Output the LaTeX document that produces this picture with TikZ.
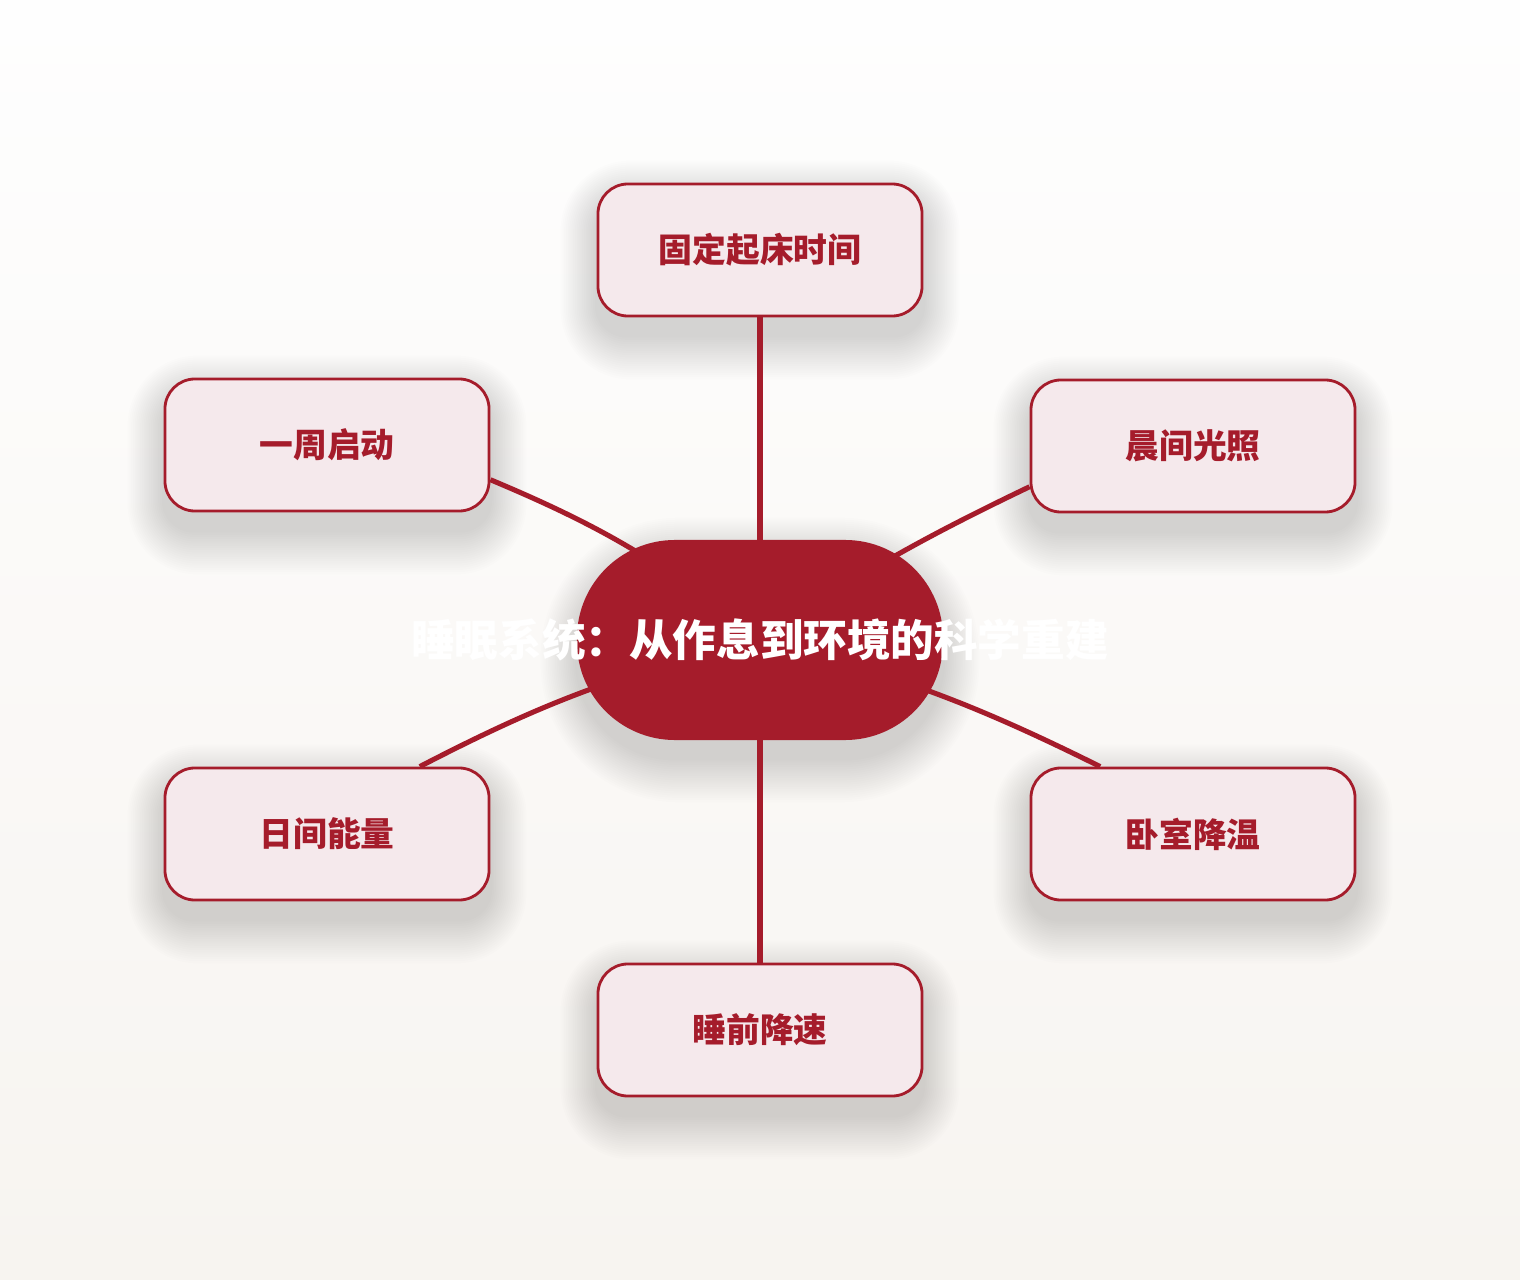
\documentclass[tikz,border=0pt]{standalone}
\usepackage{fontspec}
\usepackage{tikz}
\usetikzlibrary{positioning}
\newfontfamily\cjk{Noto Sans CJK SC}
\definecolor{hubRed}{RGB}{165,28,43}
\definecolor{leafFill}{RGB}{245,233,236}
\definecolor{bgTop}{RGB}{254,254,254}
\definecolor{bgBottom}{RGB}{247,244,240}
\pgfdeclarelayer{bgLayer}
\pgfdeclarelayer{spokeLayer}
\pgfsetlayers{bgLayer,spokeLayer,main}
\tikzstyle{canvas} = [x = 0.025cm, y = -0.025cm]
\tikzstyle{hubStyle} = [fill=hubRed, draw=none, rounded corners=2.45cm, minimum width=9.15cm, minimum height=5cm, text=white, font=\cjk\bfseries\fontsize{31}{36}\selectfont]
\tikzstyle{leafStyle} = [fill=leafFill, draw=hubRed, line width=2pt, rounded corners=0.75cm, minimum width=8.1cm, minimum height=3.3cm, text=hubRed, font=\cjk\bfseries\fontsize{24}{28}\selectfont]
\tikzstyle{spoke} = [color=hubRed, line width=3.6pt]
\tikzstyle{shadowStep} = [fill=black, opacity=0.0075]
\newcommand{\habitNode}[3]{\node [leafStyle] (#1) at (#2) {#3};}
\newcommand{\dropShadow}[2]{
  \foreach \grow in {1,...,20} {
    \fill [shadowStep, rounded corners=#2+\grow*0.05cm]
      ([shift={(-1.8*\grow, 18-2*\grow)}]#1.north west) rectangle ([shift={(1.8*\grow, 18+2.2*\grow)}]#1.south east);
  }
}

\begin{document}
\begin{tikzpicture}[canvas]
        \node [hubStyle] (hub) at (760, 640) {\makebox[0pt]{睡眠系统：从作息到环境的科学重建}};
        \habitNode{wake}{760, 250}{固定起床时间}
        \habitNode{light}{1193, 446}{晨间光照}
        \habitNode{cool}{1193, 834}{卧室降温}
        \habitNode{slow}{760, 1030}{睡前降速}
        \habitNode{energy}{327, 834}{日间能量}
        \habitNode{week}{327, 445}{一周启动}

        \begin{pgfonlayer}{bgLayer}
          \shade [top color=bgTop, bottom color=bgBottom] (0, 0) rectangle (1520, 1280);
          \dropShadow{hub}{2.45cm}
          \foreach \leaf in {wake, light, cool, slow, energy, week} {
            \dropShadow{\leaf}{0.75cm}
          }
        \end{pgfonlayer}

        \begin{pgfonlayer}{spokeLayer}
          \draw [spoke] (hub.center) -- (wake);
          \draw [spoke] (hub.center) to [bend left=4] (light.194);
          \draw [spoke] (hub.center) to [bend left=6] (cool.144);
          \draw [spoke] (hub.center) -- (slow);
          \draw [spoke] (hub.center) to [bend right=7] (energy.36);
          \draw [spoke] (hub.center) to [bend right=8] (week.-12);
        \end{pgfonlayer}
      \end{tikzpicture}
\end{document}
